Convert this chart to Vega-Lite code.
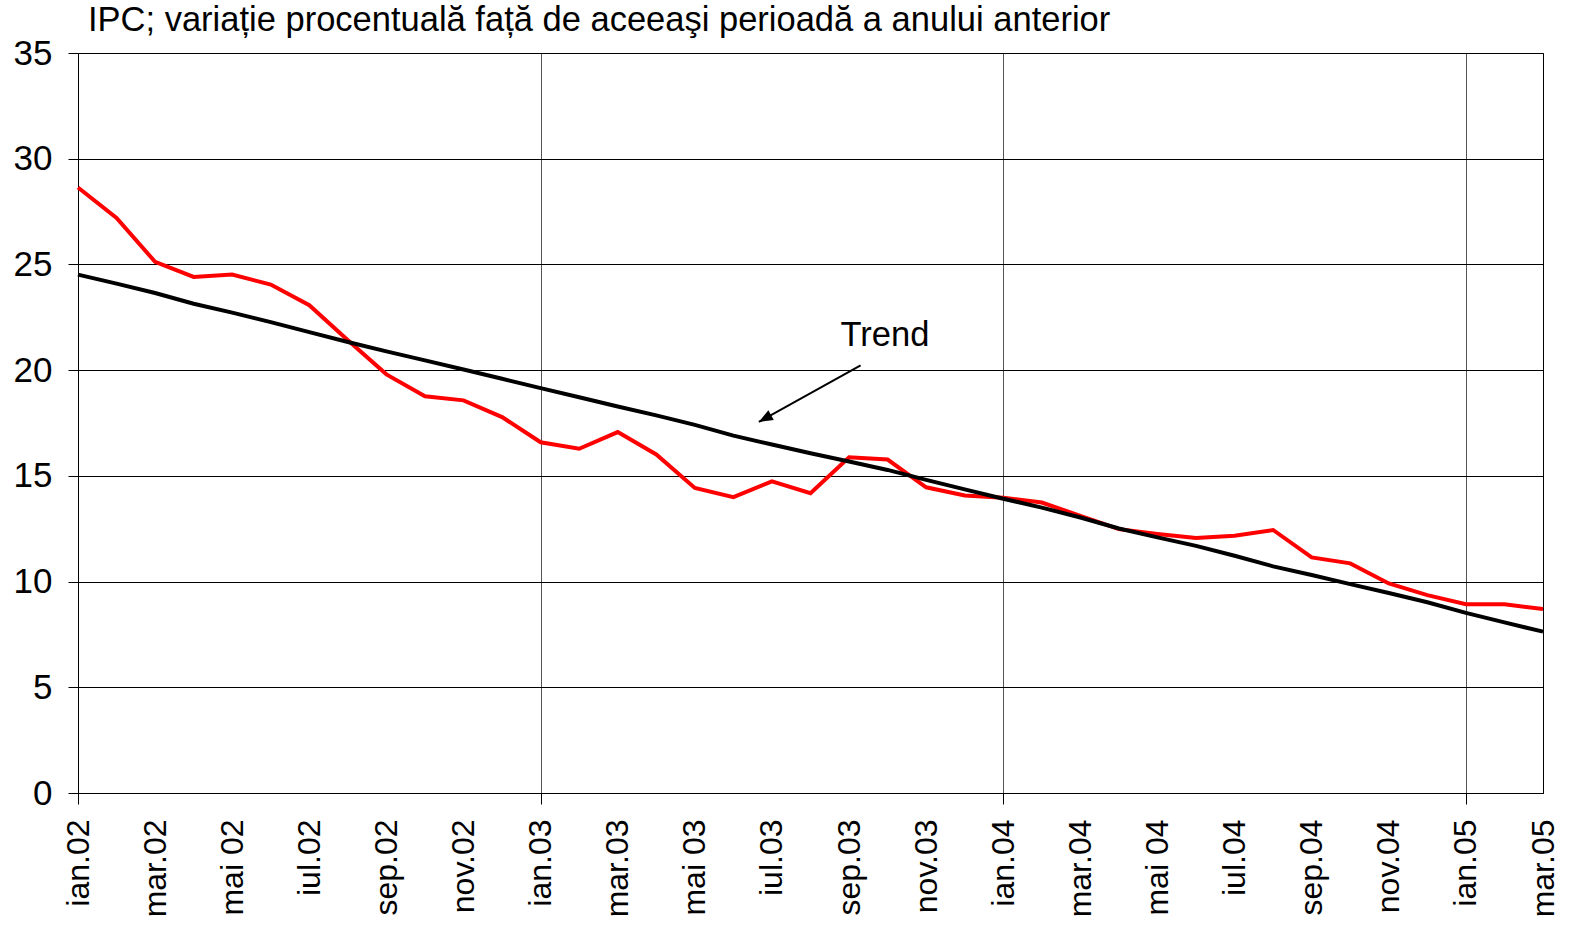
{
  "$schema": "https://vega.github.io/schema/vega-lite/v6.json",
  "autosize": "none",
  "width": 1465,
  "height": 740,
  "padding": {"left": 78, "top": 53, "right": 29, "bottom": 132},
  "background": "white",
  "config": {
    "font": "Liberation Sans",
    "view": {"stroke": "black", "strokeWidth": 1},
    "axis": {"labelFont": "Liberation Sans", "labelColor": "black", "labelFontSize": 32, "domainColor": "black", "tickColor": "black"}
  },
  "title": {
    "text": "IPC; variație procentuală față de aceeaşi perioadă a anului anterior",
    "anchor": "start",
    "frame": "group",
    "dx": 10,
    "offset": -2,
    "font": "Liberation Sans",
    "fontSize": 34.5,
    "fontWeight": "normal",
    "color": "black"
  },
  "datasets": {
    "ipc": [
      {"m": 0, "luna": "ian.02", "ipc": 28.64, "trend": 24.52},
      {"m": 1, "luna": "feb.02", "ipc": 27.2, "trend": 24.09},
      {"m": 2, "luna": "mar.02", "ipc": 25.12, "trend": 23.65},
      {"m": 3, "luna": "apr.02", "ipc": 24.41, "trend": 23.14},
      {"m": 4, "luna": "mai 02", "ipc": 24.52, "trend": 22.72},
      {"m": 5, "luna": "iun.02", "ipc": 24.05, "trend": 22.27},
      {"m": 6, "luna": "iul.02", "ipc": 23.07, "trend": 21.8},
      {"m": 7, "luna": "aug.02", "ipc": 21.41, "trend": 21.33},
      {"m": 8, "luna": "sep.02", "ipc": 19.8, "trend": 20.89},
      {"m": 9, "luna": "oct.02", "ipc": 18.76, "trend": 20.46},
      {"m": 10, "luna": "nov.02", "ipc": 18.57, "trend": 20.03},
      {"m": 11, "luna": "dec.02", "ipc": 17.78, "trend": 19.59},
      {"m": 12, "luna": "ian.03", "ipc": 16.59, "trend": 19.15},
      {"m": 13, "luna": "feb.03", "ipc": 16.28, "trend": 18.72},
      {"m": 14, "luna": "mar.03", "ipc": 17.07, "trend": 18.28},
      {"m": 15, "luna": "apr.03", "ipc": 16.01, "trend": 17.86},
      {"m": 16, "luna": "mai 03", "ipc": 14.43, "trend": 17.41},
      {"m": 17, "luna": "iun.03", "ipc": 13.99, "trend": 16.9},
      {"m": 18, "luna": "iul.03", "ipc": 14.74, "trend": 16.48},
      {"m": 19, "luna": "aug.03", "ipc": 14.18, "trend": 16.07},
      {"m": 20, "luna": "sep.03", "ipc": 15.88, "trend": 15.68},
      {"m": 21, "luna": "oct.03", "ipc": 15.77, "trend": 15.28},
      {"m": 22, "luna": "nov.03", "ipc": 14.46, "trend": 14.81},
      {"m": 23, "luna": "dec.03", "ipc": 14.07, "trend": 14.36},
      {"m": 24, "luna": "ian.04", "ipc": 13.97, "trend": 13.92},
      {"m": 25, "luna": "feb.04", "ipc": 13.74, "trend": 13.5},
      {"m": 26, "luna": "mar.04", "ipc": 13.11, "trend": 13.03},
      {"m": 27, "luna": "apr.04", "ipc": 12.48, "trend": 12.51},
      {"m": 28, "luna": "mai 04", "ipc": 12.25, "trend": 12.09},
      {"m": 29, "luna": "iun.04", "ipc": 12.06, "trend": 11.69},
      {"m": 30, "luna": "iul.04", "ipc": 12.17, "trend": 11.22},
      {"m": 31, "luna": "aug.04", "ipc": 12.44, "trend": 10.72},
      {"m": 32, "luna": "sep.04", "ipc": 11.14, "trend": 10.31},
      {"m": 33, "luna": "oct.04", "ipc": 10.86, "trend": 9.88},
      {"m": 34, "luna": "nov.04", "ipc": 9.91, "trend": 9.46},
      {"m": 35, "luna": "dec.04", "ipc": 9.36, "trend": 9.02},
      {"m": 36, "luna": "ian.05", "ipc": 8.93, "trend": 8.52},
      {"m": 37, "luna": "feb.05", "ipc": 8.93, "trend": 8.07},
      {"m": 38, "luna": "mar.05", "ipc": 8.7, "trend": 7.63}
    ],
    "note": [
      {"label": "Trend", "tx": 20.93, "ty": 21.15, "ax": 20.3, "ay": 20.23, "bx": 17.66, "by": 17.55}
    ]
  },
  "layer": [
    {
      "data": {"name": "ipc"},
      "mark": {"type": "line", "color": "#ff0000", "strokeWidth": 4},
      "encoding": {
        "x": {
          "field": "m",
          "type": "quantitative",
          "scale": {"domain": [0, 38], "nice": false, "zero": false},
          "axis": {
            "title": null,
            "values": [0, 2, 4, 6, 8, 10, 12, 14, 16, 18, 20, 22, 24, 26, 28, 30, 32, 34, 36, 38],
            "labelExpr": "['ian.02','mar.02','mai 02','iul.02','sep.02','nov.02','ian.03','mar.03','mai 03','iul.03','sep.03','nov.03','ian.04','mar.04','mai 04','iul.04','sep.04','nov.04','ian.05','mar.05'][datum.value / 2]",
            "labelAngle": -90,
            "labelAlign": "right",
            "labelBaseline": "middle",
            "labelPadding": 15,
            "labelOverlap": false,
            "labelFlush": false,
            "tickSize": 11,
            "tickOpacity": {"condition": {"test": "datum.value % 12 === 0", "value": 1}, "value": 0},
            "grid": true,
            "gridColor": "#555555",
            "gridWidth": 1,
            "gridOpacity": {"condition": {"test": "datum.value % 12 === 0 && datum.value > 0", "value": 1}, "value": 0}
          }
        },
        "y": {
          "field": "ipc",
          "type": "quantitative",
          "scale": {"domain": [0, 35], "nice": false},
          "axis": {
            "title": null,
            "values": [0, 5, 10, 15, 20, 25, 30, 35],
            "tickSize": 10,
            "labelFontSize": 35,
            "labelPadding": 16,
            "grid": true,
            "gridColor": "black",
            "gridWidth": 1
          }
        }
      }
    },
    {
      "data": {"name": "ipc"},
      "mark": {"type": "line", "color": "black", "strokeWidth": 4},
      "encoding": {
        "x": {"field": "m", "type": "quantitative"},
        "y": {"field": "trend", "type": "quantitative"}
      }
    },
    {
      "data": {"name": "note"},
      "mark": {"type": "rule", "color": "black", "strokeWidth": 2},
      "encoding": {
        "x": {"field": "ax", "type": "quantitative"},
        "y": {"field": "ay", "type": "quantitative"},
        "x2": {"field": "bx"},
        "y2": {"field": "by"}
      }
    },
    {
      "data": {"name": "note"},
      "mark": {"type": "point", "shape": "M0,0L0.4,1L-0.4,1Z", "filled": true, "color": "black", "opacity": 1, "size": 784, "angle": 241},
      "encoding": {
        "x": {"field": "bx", "type": "quantitative"},
        "y": {"field": "by", "type": "quantitative"}
      }
    },
    {
      "data": {"name": "note"},
      "mark": {"type": "text", "fontSize": 34.5, "font": "Liberation Sans", "color": "black", "align": "center", "baseline": "alphabetic"},
      "encoding": {
        "x": {"field": "tx", "type": "quantitative"},
        "y": {"field": "ty", "type": "quantitative"},
        "text": {"field": "label"}
      }
    }
  ]
}
